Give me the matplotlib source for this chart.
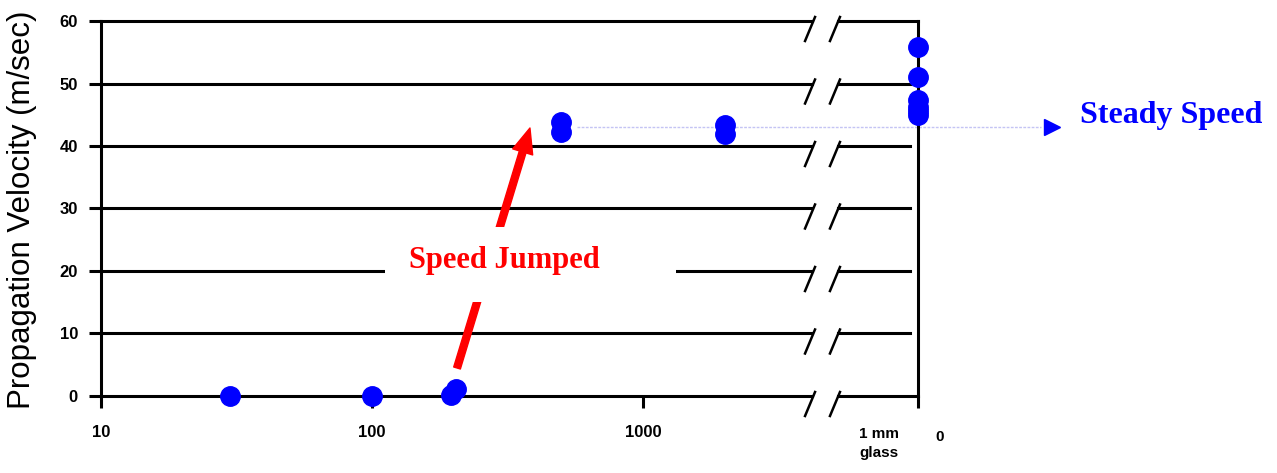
import numpy as np
import matplotlib.pyplot as plt
from matplotlib.patches import FancyArrowPatch, Rectangle

# values (x: distance in mm on a log axis, y: speed in m/sec)
dist_mm = [30, 100, 195, 205, 500, 500, 2000, 2000]
speed = [0, 0, 0.1, 1.1, 42.2, 43.8, 41.9, 43.3]
glass_speed = [55.8, 51.0, 47.4, 46.2, 45.6, 44.9]
steady = 43.0
yticks = [0, 10, 20, 30, 40, 50, 60]
xticks = [10, 100, 1000]
xticklabels = ['10', '100', '1000']

# where the axis is broken and where the "1 mm glass" column sits (log10 units)
GLASS_X = 10 ** 4.015
BREAK_L = 10 ** 3.624
BREAK_R = 10 ** 3.720
SLASHES = [10 ** 3.598, 10 ** 3.690]

blue = '#0000ff'
red = '#ff0000'

fig = plt.figure(figsize=(12.77, 4.73), dpi=100)
ax = fig.add_axes([0.0791, 0.1628, 0.6398, 0.7928])
ax.set_xscale('log')
ax.set_xlim(10, GLASS_X)
ax.set_ylim(0, 60)

for s in ['top', 'bottom', 'right']:
    ax.spines[s].set_visible(False)
ax.spines['left'].set_linewidth(2.2)

ax.set_xticks(xticks + [GLASS_X])
ax.set_xticklabels(xticklabels + [''])
ax.minorticks_off()
ax.set_yticks(yticks)
ax.tick_params(axis='both', direction='out', length=8.6, width=2.2, labelsize=12)
ax.tick_params(axis='y', pad=8)
ax.tick_params(axis='x', pad=12)
for lab in ax.get_xticklabels() + ax.get_yticklabels():
    lab.set_fontfamily('Liberation Sans')
    lab.set_fontweight('bold')

# gridlines, broken near the right end
for y in yticks:
    end = GLASS_X if y in (0, 60) else 10 ** 3.985
    ax.plot([10, BREAK_L], [y, y], color='black', lw=2.2, clip_on=False, zorder=2)
    ax.plot([BREAK_R, end], [y, y], color='black', lw=2.2, clip_on=False, zorder=2)
    for x0 in SLASHES:
        ax.plot([x0, x0 * 10 ** (10 / 271)], [y - 3.2, y + 0.64], color='black',
                lw=1.8, clip_on=False, zorder=2)

# right-hand vertical line for the glass column
ax.plot([GLASS_X, GLASS_X], [0, 60], color='black', lw=2.2, clip_on=False, zorder=2)

# steady speed guide line
ax.plot([10 ** 2.756, 10 ** 4.47], [steady, steady], color='#c4c4f4', lw=1.0,
        ls=(0, (2, 1)), clip_on=False, zorder=1)
ax.plot([10 ** 4.509], [steady], marker='>', color=blue, ms=11, clip_on=False, zorder=5)

# data points
ax.plot(dist_mm, speed, 'o', color=blue, ms=14, mec=blue, clip_on=False, zorder=5)
ax.plot([GLASS_X] * len(glass_speed), glass_speed, 'o', color=blue, ms=14, mec=blue,
        clip_on=False, zorder=5)

# labels outside the axes
fig.text(0.0172, 0.556, 'Propagation Velocity (m/sec)', rotation=90, ha='center',
         va='center', fontsize=22.5, family='Liberation Sans')
fig.text(0.6883, 0.0973, '1 mm\nglass', ha='center', va='top', fontsize=11,
         fontweight='bold', family='Liberation Sans', linespacing=1.5)
fig.text(0.7361, 0.0909, '0', ha='center', va='top', fontsize=11,
         fontweight='bold', family='Liberation Sans')

# "Speed Jumped" annotation: arrow under a white box
arrow = FancyArrowPatch((0.3579, 0.2220), (0.4150, 0.7294), transform=fig.transFigure,
                        arrowstyle='simple,head_length=1.8,head_width=1.5,tail_width=0.5',
                        mutation_scale=10, color=red, shrinkA=0, shrinkB=0,
                        clip_on=False, zorder=3)
ax.add_patch(arrow)
box = Rectangle((385 / 1277, 1 - 302 / 473), 291 / 1277, 75 / 473, transform=fig.transFigure,
                facecolor='white', edgecolor='none', clip_on=False, zorder=4)
ax.add_patch(box)
fig.text(504 / 1277, 1 - 268 / 473, 'Speed Jumped', ha='center', va='baseline',
         color=red, fontsize=22, fontweight='bold', family='Liberation Serif', zorder=6)

fig.text(1080 / 1277, 1 - 123 / 473, 'Steady Speed', ha='left', va='baseline',
         color=blue, fontsize=23, fontweight='bold', family='Liberation Serif')

fig.savefig('out.png', dpi=100)
